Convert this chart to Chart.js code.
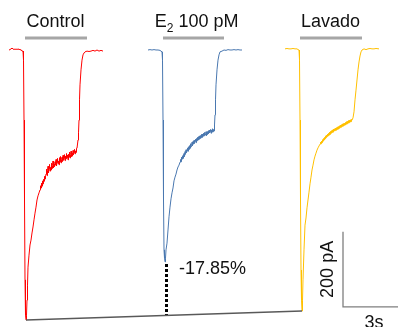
<!DOCTYPE html>
<html>
<head>
<meta charset="utf-8">
<script src="https://cdn.jsdelivr.net/npm/chart.js@4/dist/chart.umd.min.js"></script>
<style>
html,body{margin:0;padding:0;background:#fff;}
#wrap{width:398px;height:327px;}
</style>
</head>
<body>
<div id="wrap"><canvas id="c" width="398" height="327"></canvas></div>
<script>
// Condition labels
const conditions = ['Control', 'E2 100 pM', 'Lavado'];

// Control trace: time (s), current (pA)
const controlT = [0.45,0.50,0.55,0.60,0.65,0.70,0.75,0.80,0.85,0.90,0.95,1.00,1.05,1.10,1.15,1.175,1.20,1.225,1.25,1.275,1.30,1.325,1.35,1.375,1.40,1.45,1.50,1.55,1.60,1.65,1.70,1.75,1.80,1.85,1.90,1.95,2.00,2.025,2.05,2.075,2.10,2.125,2.15,2.175,2.20,2.225,2.25,2.275,
 2.300,2.325,2.350,2.375,2.400,2.425,2.450,2.475,2.500,2.525,2.550,2.575,2.600,2.625,2.650,2.675,2.700,2.725,2.750,2.775,2.800,2.825,2.850,2.875,2.900,2.925,2.950,2.975,3.000,3.025,3.050,3.075,3.100,3.125,3.150,3.175,3.200,3.225,3.250,3.275,3.300,3.325,3.350,3.375,3.400,3.425,3.450,3.475,3.500,3.525,3.550,3.575,3.600,3.625,3.650,3.675,3.700,3.725,3.750,3.775,3.800,3.825,3.850,
 3.90,3.925,3.95,3.975,4.00,4.05,4.10,4.15,4.20,4.25,4.35,4.45,4.55,4.65,4.75,4.85,4.95,5.05,5.15];
const controlI = [0,1,3,5,3,1,3,1,3,1,3,0,1,-3,-3,-27,-187,-400,-613,-707,-720,-707,-667,-627,-579,-547,-520,-507,-488,-472,-453,-435,-419,-400,-389,-381,-373,-362,-368,-355,-363,-349,-357,-345,-350,-337,-344,-335,
 -331,-318,-335,-322,-310,-328,-316,-305,-323,-313,-320,-302,-316,-308,-296,-314,-305,-311,-298,-307,-292,-309,-300,-289,-303,-296,-306,-287,-298,-284,-301,-292,-286,-297,-281,-294,-288,-279,-295,-283,-290,-276,-287,-280,-293,-278,-285,-272,-288,-279,-270,-284,-275,-283,-268,-279,-273,-265,-277,-269,-273,-262,-262,
 -240,-221,-187,-133,-93,-53,-27,-13,-8,-5,-3,-4,-3,-1,-3,0,-3,-1,-3];

// E2 100 pM trace
const e2T = [7.40,7.50,7.60,7.70,7.80,7.90,8.00,8.05,8.10,8.125,8.15,8.175,8.20,8.225,8.25,8.275,8.30,8.35,8.40,8.45,8.50,8.55,8.60,8.65,8.70,8.75,8.80,8.85,8.90,8.95,
 9.000,9.025,9.050,9.075,9.100,9.125,9.150,9.175,9.200,9.225,9.250,9.275,9.300,9.325,9.350,9.375,9.400,9.425,9.450,9.475,9.500,9.525,9.550,9.575,9.600,9.625,9.650,9.675,9.700,9.725,9.750,9.775,9.800,9.825,9.850,9.875,9.900,9.925,9.950,9.975,10.000,10.025,10.050,10.075,10.100,10.125,10.150,10.175,10.200,10.225,10.250,10.275,10.300,10.325,10.350,10.375,10.400,10.425,10.450,10.475,10.500,10.525,10.550,10.575,10.600,10.625,10.650,10.675,10.700,
 10.725,10.75,10.775,10.80,10.85,10.90,10.95,11.00,11.10,11.20,11.30,11.40,11.50,11.60,11.70,11.80,11.90,12.00,12.10];
const e2I = [0,1,0,1,0,0,-1,-3,-5,-27,-187,-400,-533,-555,-565,-555,-533,-515,-480,-445,-419,-397,-381,-368,-349,-339,-331,-320,-312,-307,
 -299,-292,-298,-286,-291,-282,-289,-280,-276,-284,-271,-278,-266,-274,-269,-261,-270,-258,-265,-255,-262,-250,-258,-254,-246,-255,-244,-251,-241,-249,-243,-238,-247,-236,-242,-233,-240,-231,-238,-229,-236,-228,-234,-225,-233,-224,-230,-222,-229,-220,-227,-223,-218,-228,-219,-225,-216,-223,-214,-221,-217,-212,-222,-213,-219,-210,-218,-212,-216,
 -200,-173,-133,-93,-53,-27,-13,-5,-3,0,-1,1,0,0,1,0,1,0,0];

// Lavado (washout) trace
const washT = [14.25,14.35,14.45,14.55,14.65,14.75,14.85,14.90,14.95,14.975,15.00,15.025,15.05,15.075,15.10,15.125,15.15,15.20,15.25,15.30,15.35,15.40,15.45,15.50,15.55,15.60,15.65,15.70,15.75,15.80,15.85,15.90,15.95,
 16.000,16.025,16.050,16.075,16.100,16.125,16.150,16.175,16.200,16.225,16.250,16.275,16.300,16.325,16.350,16.375,16.400,16.425,16.450,16.475,16.500,16.525,16.550,16.575,16.600,16.625,16.650,16.675,16.700,16.725,16.750,16.775,16.800,16.825,16.850,16.875,16.900,16.925,16.950,16.975,17.000,17.025,17.050,17.075,17.100,17.125,17.150,17.175,17.200,17.225,17.250,17.275,17.300,17.325,17.350,17.375,17.400,17.425,17.450,17.475,17.500,17.525,17.550,17.575,17.600,
 17.65,17.70,17.75,17.80,17.85,17.90,17.95,18.00,18.05,18.10,18.20,18.30,18.40,18.50,18.60,18.70,18.80,18.95];
const washI = [3,4,3,3,4,3,3,1,0,-27,-187,-400,-587,-667,-696,-667,-613,-533,-467,-448,-421,-400,-379,-357,-339,-320,-307,-293,-283,-275,-267,-261,-256,
 -251,-246,-250,-243,-247,-239,-243,-236,-240,-233,-237,-229,-234,-227,-231,-224,-229,-222,-227,-219,-225,-217,-222,-215,-220,-213,-219,-211,-216,-210,-215,-208,-214,-207,-212,-205,-211,-204,-209,-202,-207,-200,-206,-199,-204,-197,-203,-196,-201,-195,-200,-193,-198,-191,-197,-190,-195,-188,-194,-187,-192,-186,-191,-185,-187,
 -181,-165,-133,-107,-80,-53,-32,-16,-5,0,3,1,3,4,3,3,4,3];

// Peak-to-peak reference line (control peak -> washout peak)
const peakLineT = [1.30, 15.10];
const peakLineI = [-720, -696];
// Drop from E2 peak to reference line
const dropT = [8.325, 8.325];
const dropI = [-571, -708];
const dropLabel = '-17.85%';

// Application bars (start/end, s)
const barStart = [1.25, 8.15, 15.00];
const barEnd = [4.35, 11.20, 18.10];
const barLevel = 32;

// Scale bar: 3 s, 200 pA
const scaleT = [20.15, 17.15, 17.15];
const scaleI = [-685, -685, -485];
const scaleLabels = ['200 pA', '3s'];

function pts(t, v){ return t.map((x,i)=>({x:x, y:v[i]})); }

const datasets = [];
barStart.forEach((s,i)=>{
  datasets.push({data: pts([s, barEnd[i]], [barLevel, barLevel]), borderColor:'#a6a6a6', borderWidth:3});
});
datasets.push({data: pts(peakLineT, peakLineI), borderColor:'#595959', borderWidth:1.3});
datasets.push({data: pts(controlT, controlI), borderColor:'#ff0000', borderWidth:1});
datasets.push({data: pts(e2T, e2I), borderColor:'#4a78b0', borderWidth:1});
datasets.push({data: pts(washT, washI), borderColor:'#ffc000', borderWidth:1});
datasets.push({data: pts(dropT, dropI), borderColor:'#000', borderWidth:3, borderDash:[3,2]});
datasets.push({data: pts(scaleT, scaleI), borderColor:'#7f7f7f', borderWidth:1.3});

const FONT = '"Liberation Sans", Arial, sans-serif';

const textPlugin = {
  id: 'texts',
  afterDatasetsDraw(chart){
    const ctx = chart.ctx, xs = chart.scales.x, ys = chart.scales.y;
    ctx.save();
    ctx.fillStyle = '#111';
    ctx.textBaseline = 'alphabetic';
    ctx.font = '18px ' + FONT;
    ctx.textAlign = 'center';
    ctx.fillText(conditions[0], xs.getPixelForValue(2.77), ys.getPixelForValue(61));
    ctx.textAlign = 'left';
    let x0 = xs.getPixelForValue(7.74), yb = ys.getPixelForValue(61);
    ctx.fillText('E', x0, yb);
    x0 += ctx.measureText('E').width;
    ctx.font = '12px ' + FONT;
    ctx.fillText('2', x0, yb + 5);
    x0 += ctx.measureText('2').width;
    ctx.font = '18px ' + FONT;
    ctx.fillText(' 100 pM', x0, yb);
    ctx.textAlign = 'center';
    ctx.fillText(conditions[2], xs.getPixelForValue(16.53), ys.getPixelForValue(61));
    ctx.textAlign = 'left';
    ctx.fillText(dropLabel, xs.getPixelForValue(8.95), ys.getPixelForValue(-597));
    ctx.textAlign = 'center';
    ctx.fillText(scaleLabels[1], xs.getPixelForValue(18.7), ys.getPixelForValue(-741));
    ctx.translate(xs.getPixelForValue(16.66), ys.getPixelForValue(-585));
    ctx.rotate(-Math.PI/2);
    ctx.textAlign = 'center';
    ctx.fillText(scaleLabels[0], 0, 0);
    ctx.restore();
  }
};

new Chart(document.getElementById('c'), {
  type: 'line',
  data: { datasets },
  options: {
    responsive: false,
    animation: false,
    layout: { padding: 0 },
    elements: { point: { radius: 0 }, line: { tension: 0 } },
    plugins: { legend: { display: false }, tooltip: { enabled: false } },
    scales: {
      x: { type: 'linear', min: 0, max: 19.9, display: false },
      y: { type: 'linear', min: -738.67, max: 133.33, display: false }
    }
  },
  plugins: [textPlugin]
});
</script>
</body>
</html>
